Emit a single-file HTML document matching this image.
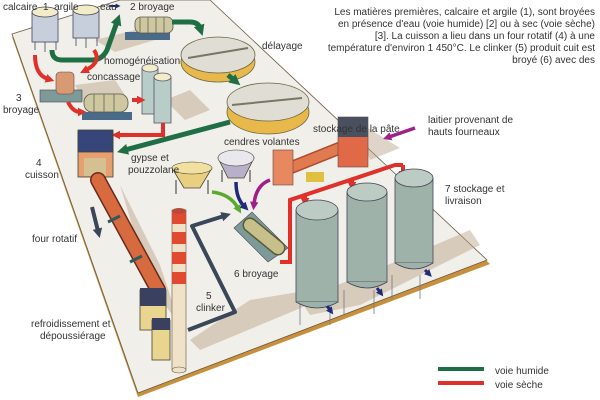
<!DOCTYPE html>
<html><head><meta charset="utf-8"><style>
html,body{margin:0;padding:0;background:#fff;}
svg{display:block;}
text{font-family:"Liberation Sans",sans-serif;font-size:10px;fill:#333;}
</style></head><body>
<svg width="600" height="400" viewBox="0 0 600 400" xmlns="http://www.w3.org/2000/svg">
<defs>
<marker id="ag" viewBox="0 0 4 4" markerWidth="2.2" markerHeight="2.2" refX="1" refY="2" orient="auto"><path d="M0,0 L4,2 L0,4z" fill="#1f6e45"/></marker>
<marker id="ar" viewBox="0 0 4 4" markerWidth="2.2" markerHeight="2.2" refX="1" refY="2" orient="auto"><path d="M0,0 L4,2 L0,4z" fill="#e0302a"/></marker>
<marker id="ab" viewBox="0 0 4 4" markerWidth="2.4" markerHeight="2.4" refX="1" refY="2" orient="auto"><path d="M0,0 L4,2 L0,4z" fill="#1e2a7a"/></marker>
<marker id="ad" viewBox="0 0 4 4" markerWidth="2.4" markerHeight="2.4" refX="1" refY="2" orient="auto"><path d="M0,0 L4,2 L0,4z" fill="#3a4758"/></marker>
<marker id="ap" viewBox="0 0 4 4" markerWidth="2.4" markerHeight="2.4" refX="1" refY="2" orient="auto"><path d="M0,0 L4,2 L0,4z" fill="#a0208a"/></marker>
<marker id="al" viewBox="0 0 4 4" markerWidth="2.4" markerHeight="2.4" refX="1" refY="2" orient="auto"><path d="M0,0 L4,2 L0,4z" fill="#5aaa30"/></marker>
</defs>
<!-- board -->
<polygon points="12,37 138,397 490,264 212,3" fill="#c8903c"/>
<polygon points="12,34 138,393 487,260 210,0 120,0" fill="#f1efea" stroke="#6a5a40" stroke-width="0.8"/>
<!-- shadows -->
<g fill="#b8a184" opacity="0.45">
<path d="M95,40 l40,-10 l20,10 l-40,12z"/>
<path d="M75,85 l40,-5 l10,15 l-40,10z"/>
<path d="M165,100 l25,-10 l20,20 l-25,10z"/>
<path d="M120,185 l40,80 l20,60 l-30,-40z"/>
<path d="M190,340 l60,-40 l60,-10 l10,10 l-120,50z"/>
<path d="M300,300 l100,-40 l70,-30 l10,15 l-120,60 l-50,10z"/>
<path d="M355,120 l45,28 l-30,12z"/>
</g>
<!-- silos calcaire/argile -->
<g stroke="#445" stroke-width="0.8">
<rect x="32" y="12" width="26" height="30" fill="#c8cfdc"/><ellipse cx="45" cy="12" rx="13" ry="5" fill="#f2ecc8"/>
<rect x="73" y="10" width="26" height="28" fill="#c8cfdc"/><ellipse cx="86" cy="10" rx="13" ry="5" fill="#f2ecc8"/>
<path d="M35,42v8M45,42v10M56,42v8M76,38v8M86,38v10M97,38v8" fill="none"/>
</g>
<!-- broyage 2 -->
<rect x="125" y="32" width="45" height="8" fill="#4a6a8a"/>
<rect x="135" y="17" width="38" height="16" rx="6" fill="#cfc7a0" stroke="#554" stroke-width="0.8"/>
<path d="M140,17v16M148,17v16M156,17v16M164,17v16" stroke="#776" stroke-width="1"/>
<path d="M110,6 h7" stroke="#1e2a7a" stroke-width="2" marker-end="url(#ab)"/>
<!-- délayage tanks -->
<ellipse cx="218" cy="62" rx="37" ry="20" fill="#e9b84a" stroke="#664" stroke-width="0.8"/>
<ellipse cx="218" cy="55" rx="37" ry="18" fill="#e0ddd4" stroke="#664" stroke-width="0.8"/>
<path d="M188,58 L248,48" stroke="#776" stroke-width="2"/>
<ellipse cx="268" cy="112" rx="41" ry="22" fill="#e9b84a" stroke="#664" stroke-width="0.8"/>
<ellipse cx="268" cy="102" rx="41" ry="19" fill="#e0ddd4" stroke="#664" stroke-width="0.8"/>
<path d="M232,105 L302,98" stroke="#776" stroke-width="2"/>
<!-- green path -->
<g fill="none" stroke="#1f6e45" stroke-width="5">
<path d="M52,50 q0,10 10,10 h30 q10,0 15,-10 l10,-28" marker-end="url(#ag)"/>
<path d="M172,22 h18 q8,0 10,6" marker-end="url(#ag)"/>
<path d="M228,75 l6,5" marker-end="url(#ag)"/>
<path d="M230,122 L125,150" marker-end="url(#ag)"/>
</g>
<!-- concassage crusher -->
<rect x="40" y="90" width="42" height="12" fill="#7d9a98" stroke="#445" stroke-width="0.6"/>
<rect x="56" y="72" width="18" height="22" rx="4" fill="#d89a72" stroke="#644" stroke-width="0.6"/>
<!-- ball mill 3 -->
<rect x="82" y="112" width="50" height="8" fill="#4a6a8a"/>
<rect x="84" y="94" width="44" height="18" rx="8" fill="#cfc7a0" stroke="#554" stroke-width="0.8"/>
<path d="M94,94v18M104,94v18M114,94v18" stroke="#776"/>
<!-- homogeneisation silos -->
<g stroke="#556" stroke-width="0.8">
<rect x="142" y="68" width="16" height="46" fill="#b9cdc8"/><ellipse cx="150" cy="68" rx="8" ry="4" fill="#f2ecc8"/>
<rect x="154" y="77" width="17" height="46" fill="#b9cdc8"/><ellipse cx="162.5" cy="77" rx="8.5" ry="4" fill="#f2ecc8"/>
</g>
<!-- red paths -->
<g fill="none" stroke="#e0302a" stroke-width="4">
<path d="M35,55 q0,20 13,24" marker-end="url(#ar)"/>
<path d="M94,50 q8,12 -8,20" marker-end="url(#ar)"/>
<path d="M68,102 q5,10 12,10" marker-end="url(#ar)"/>
<path d="M132,100 h7" marker-end="url(#ar)"/>
<path d="M163,123 v12 h-45" marker-end="url(#ar)"/>
<path d="M280,262 h10 v-62 L395,165 h8"/>
<path d="M305,195 v5" marker-end="url(#ar)"/><path d="M352,180 v4" marker-end="url(#ar)"/><path d="M403,165 v8" marker-end="url(#ar)"/>
</g>
<!-- cuisson tower -->
<rect x="78" y="132" width="35" height="45" fill="#e6a070" stroke="#443" stroke-width="0.8"/>
<rect x="78" y="130" width="35" height="22" fill="#36457a" stroke="#443" stroke-width="0.8"/>
<rect x="84" y="158" width="22" height="18" fill="#d4c090"/>
<!-- kiln -->
<path d="M98,180 L158,290" stroke="#6a2a1a" stroke-width="16" stroke-linecap="round"/>
<path d="M98,180 L158,290" stroke="#d86a40" stroke-width="13" stroke-linecap="round"/>
<path d="M108,222 l12,-6 M130,262 l12,-6" stroke="#2f5a5a" stroke-width="3"/>
<!-- coolers -->
<rect x="140" y="290" width="26" height="40" fill="#e9d590" stroke="#443" stroke-width="0.8"/>
<rect x="140" y="288" width="26" height="18" fill="#3a4060"/>
<rect x="152" y="320" width="18" height="40" fill="#e9d590" stroke="#443" stroke-width="0.8"/>
<rect x="152" y="318" width="18" height="12" fill="#3a4060"/>
<path d="M92,207 l6,24" stroke="#3a4758" stroke-width="4" marker-end="url(#ad)"/>
<!-- chimney -->
<rect x="172" y="210" width="14" height="160" fill="#f0e2c8" stroke="#654" stroke-width="0.6"/>
<ellipse cx="179" cy="370" rx="7" ry="3" fill="#f0e2c8" stroke="#654" stroke-width="0.6"/>
<rect x="172" y="212" width="14" height="12" fill="#e04a30"/><rect x="172" y="232" width="14" height="12" fill="#e04a30"/><rect x="172" y="252" width="14" height="12" fill="#e04a30"/><rect x="172" y="272" width="14" height="12" fill="#e04a30"/>
<ellipse cx="179" cy="211" rx="7" ry="3" fill="#b84a3a"/>
<!-- clinker loop -->
<path d="M188,330 L235,312 L192,226 L224,216" fill="none" stroke="#3a4758" stroke-width="4" stroke-linejoin="round" marker-end="url(#ad)"/>
<!-- hoppers -->
<path d="M172,168 h40 l-12,20 h-16z" fill="#e8d080" stroke="#443" stroke-width="0.8"/>
<ellipse cx="192" cy="168" rx="20" ry="6" fill="#f2e0a0" stroke="#443" stroke-width="0.6"/>
<path d="M176,180v14M208,180v14" stroke="#333"/>
<path d="M218,158 h36 l-10,20 h-16z" fill="#b8b0c8" stroke="#443" stroke-width="0.8"/>
<ellipse cx="236" cy="158" rx="18" ry="8" fill="#e8e8ee" stroke="#443" stroke-width="0.6"/>
<path d="M222,170v12M250,170v12" stroke="#333"/>
<path d="M212,192 q18,2 26,16" fill="none" stroke="#5aaa30" stroke-width="3.5" marker-end="url(#al)"/>
<path d="M236,182 q0,16 8,24" fill="none" stroke="#1e2a7a" stroke-width="3.5" marker-end="url(#ab)"/>
<path d="M270,180 q-14,5 -16,24" fill="none" stroke="#a0208a" stroke-width="3.5" marker-end="url(#ap)"/>
<path d="M415,128 l-26,9" fill="none" stroke="#a0208a" stroke-width="3.5" marker-end="url(#ap)"/>
<!-- mill 6 -->
<polygon points="234,228 252,212 288,248 268,262" fill="#7d9a98" stroke="#445" stroke-width="0.6"/>
<path d="M250,225 L278,248" stroke="#5a5a38" stroke-width="15" stroke-linecap="round"/>
<path d="M250,225 L278,248" stroke="#c8c08a" stroke-width="12" stroke-linecap="round"/>
<!-- laitier dryer -->
<path d="M290,168 L340,148" stroke="#b04a2a" stroke-width="13"/>
<path d="M290,168 L340,148" stroke="#e07a50" stroke-width="10"/>
<rect x="273" y="150" width="20" height="35" fill="#e88860" stroke="#644" stroke-width="0.6"/>
<rect x="338" y="117" width="30" height="50" fill="#e06a48" stroke="#644" stroke-width="0.6"/>
<rect x="338" y="117" width="30" height="20" fill="#4a5060"/>
<rect x="306" y="172" width="18" height="10" fill="#e0c040"/>
<!-- big silos -->
<g stroke="#445" stroke-width="0.8">
<path d="M300,300v25M330,300v25M344,290v24M374,290v24M392,275v24M420,275v24" stroke="#778"/>
<rect x="296" y="210" width="42" height="92" fill="#9fb2aa"/><ellipse cx="317" cy="210" rx="21" ry="10" fill="#bccbc4"/>
<path d="M296,302 q21,12 42,0" fill="#9fb2aa"/>
<rect x="347" y="192" width="40" height="90" fill="#9fb2aa"/><ellipse cx="367" cy="192" rx="20" ry="9" fill="#bccbc4"/>
<path d="M347,282 q20,12 40,0" fill="#9fb2aa"/>
<rect x="395" y="178" width="38" height="85" fill="#9fb2aa"/><ellipse cx="414" cy="178" rx="19" ry="9" fill="#bccbc4"/>
<path d="M395,263 q19,12 38,0" fill="#9fb2aa"/>
</g>
<g stroke="#1e2a7a" stroke-width="3" fill="none">
<path d="M327,306 l3,4" marker-end="url(#ab)"/><path d="M377,288 l3,4" marker-end="url(#ab)"/><path d="M425,270 l3,3" marker-end="url(#ab)"/>
</g>
<!-- legend -->
<rect x="438" y="367" width="46" height="4" fill="#1f6e45"/>
<rect x="438" y="381" width="46" height="4" fill="#e0302a"/>
<!-- labels -->
<text x="3" y="10">calcaire&#160;&#160;1&#160;&#160;argile</text>
<text x="100" y="10">eau</text>
<text x="130" y="10">2 broyage</text>
<text x="262" y="49">délayage</text>
<text x="104" y="64">homogénéisation</text>
<text x="87" y="80">concassage</text>
<text x="16" y="101">3</text><text x="3" y="113">broyage</text>
<text x="313" y="132">stockage de la pâte</text>
<text x="224" y="145">cendres volantes</text>
<text x="131" y="161">gypse et</text><text x="128" y="173">pouzzolane</text>
<text x="36" y="166">4</text><text x="25" y="178">cuisson</text>
<text x="428" y="123">laitier provenant de</text><text x="428" y="135">hauts fourneaux</text>
<text x="445" y="192">7 stockage et</text><text x="445" y="204">livraison</text>
<text x="32" y="242">four rotatif</text>
<text x="234" y="277">6 broyage</text>
<text x="206" y="299">5</text><text x="196" y="311">clinker</text>
<text x="31" y="327">refroidissement et</text><text x="40" y="339">dépoussiérage</text>
<text x="495" y="374">voie humide</text><text x="495" y="388">voie sèche</text>
<g text-anchor="end" style="font-size:9.6px">
<text x="595" y="15">Les matières premières, calcaire et argile (1), sont broyées</text>
<text x="595" y="27">en présence d'eau (voie humide) [2] ou à sec (voie sèche)</text>
<text x="595" y="39">[3]. La cuisson a lieu dans un four rotatif (4) à une</text>
<text x="595" y="51">température d'environ 1 450°C. Le clinker (5) produit cuit est</text>
<text x="595" y="63">broyé (6) avec des</text>
</g>
</svg>
</body></html>
